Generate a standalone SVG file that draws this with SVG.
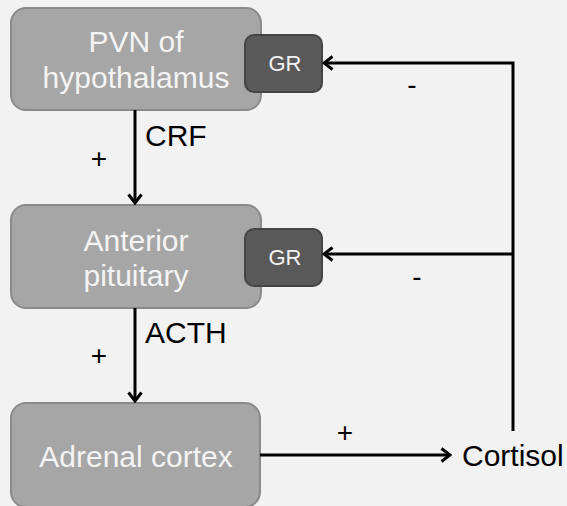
<svg xmlns="http://www.w3.org/2000/svg" width="567" height="506" viewBox="0 0 567 506">
<style>
.box{fill:#a6a6a6;stroke:#8a8a8a;stroke-width:2}
.gr{fill:#595959;stroke:#444;stroke-width:2}
.bt{font-family:"Liberation Sans",Arial,sans-serif;font-size:30px;fill:#f4f4f4;text-anchor:middle}
.gt{font-family:"Liberation Sans",Arial,sans-serif;font-size:22px;fill:#f2f2f2;text-anchor:middle}
.lt{font-family:"Liberation Sans",Arial,sans-serif;font-size:30px;fill:#000}
.st{font-family:"Liberation Sans",Arial,sans-serif;font-size:28px;fill:#000;text-anchor:middle}
.ln{fill:none;stroke:#000;stroke-width:3}
</style>
<defs>
<marker id="ah" markerWidth="12" markerHeight="16" refX="10" refY="8" orient="auto" markerUnits="userSpaceOnUse">
<path d="M1.5,1.5 L10,8 L1.5,14.5" fill="none" stroke="#000" stroke-width="3"/>
</marker>
</defs>
<rect width="567" height="506" fill="#f2f2f2"/>
<g id="pvn">
<rect class="box" x="11" y="8" width="250" height="102" rx="15"/>
<text class="bt" x="136" y="52">PVN of</text>
<text class="bt" x="136" y="88">hypothalamus</text>
</g>
<g id="gr1">
<rect class="gr" x="245" y="35" width="77" height="57" rx="9"/>
<text class="gt" x="285" y="71">GR</text>
</g>
<g id="pituitary">
<rect class="box" x="11" y="205" width="250" height="103" rx="15"/>
<text class="bt" x="136" y="251">Anterior</text>
<text class="bt" x="136" y="286">pituitary</text>
</g>
<g id="gr2">
<rect class="gr" x="245" y="229" width="77" height="57" rx="9"/>
<text class="gt" x="285" y="265">GR</text>
</g>
<g id="adrenal">
<rect class="box" x="11" y="403" width="249" height="104" rx="15"/>
<text class="bt" x="136" y="467">Adrenal cortex</text>
</g>
<g id="cortisol">
<text class="lt" x="462" y="466">Cortisol</text>
</g>
<g id="connectors">
<line class="ln" x1="135" y1="110" x2="135" y2="203" marker-end="url(#ah)"/>
<line class="ln" x1="135" y1="308" x2="135" y2="401" marker-end="url(#ah)"/>
<line class="ln" x1="260" y1="455" x2="450" y2="455" marker-end="url(#ah)"/>
<polyline class="ln" points="513,431 513,63 324,63" marker-end="url(#ah)"/>
<line class="ln" x1="513" y1="254" x2="324" y2="254" marker-end="url(#ah)"/>
<text class="lt" x="145" y="146">CRF</text>
<text class="lt" x="145" y="343">ACTH</text>
<text class="st" x="99" y="168">+</text>
<text class="st" x="99" y="365">+</text>
<text class="st" x="345" y="442">+</text>
<text class="st" x="412" y="94">-</text>
<text class="st" x="417" y="286">-</text>
</g>
</svg>
